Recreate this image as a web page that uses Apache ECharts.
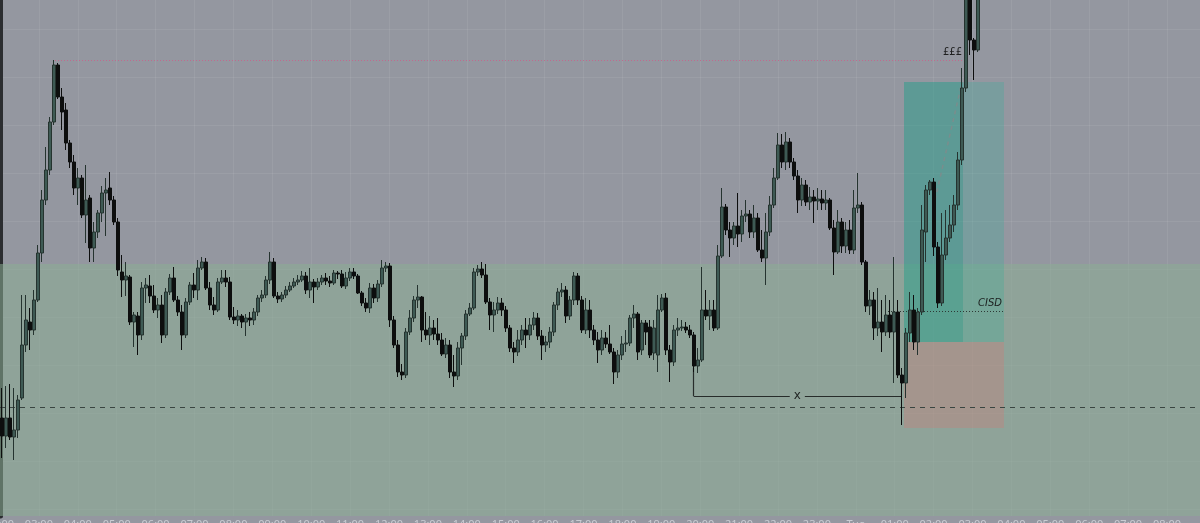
<!DOCTYPE html>
<html><head><meta charset="utf-8">
<script src="https://cdn.jsdelivr.net/npm/echarts@6/dist/echarts.min.js"></script>
<style>html,body{margin:0;padding:0;background:#9497a0;overflow:hidden}#c{width:1200px;height:523px}</style>
</head><body><div id="c"></div>
<script>
// OHLC price data (one candle per bar, bar index = array index)
const opens = [182,164,182,163,170,202,255,278,270,300,347,400,430,478,535,503,490,457,438,412,
422,385,402,352,368,387,407,412,400,378,328,320,323,278,284,265,312,314,304,290,
295,265,308,322,300,288,265,298,315,310,332,338,312,295,290,318,322,318,283,280,
284,278,282,280,288,302,305,320,338,304,301,305,310,314,318,320,324,310,318,313,
318,322,319,317,327,326,314,322,328,324,307,297,292,312,302,316,332,334,280,255,
228,225,268,282,300,303,270,265,272,266,260,246,255,228,224,252,264,286,292,328,
331,325,298,285,290,297,290,272,252,248,260,270,265,275,282,264,255,258,268,295,
308,310,284,300,324,300,270,290,270,260,250,262,256,248,228,245,256,257,282,286,
250,277,273,247,245,290,302,250,238,270,272,273,270,265,234,240,290,284,290,272,
344,393,370,362,374,366,384,386,368,382,350,342,368,395,422,455,438,458,438,424,
400,415,398,403,399,401,397,400,372,348,378,354,370,350,392,395,338,294,300,272,
278,268,285,268,288,225,217,267,290,258,288,368,410,418,353,297,345,362,375,395,
440,512,605,560,550];
const closes = [164,182,163,170,200,255,280,270,300,347,400,430,478,535,503,488,457,438,412,422,
385,400,352,368,387,407,410,400,378,330,320,324,278,285,265,312,315,304,290,295,
265,308,322,300,288,265,298,315,310,332,338,312,295,290,318,322,318,283,280,284,
278,282,280,288,302,305,320,338,304,301,305,310,314,318,320,324,310,318,313,318,
322,319,317,327,326,314,322,328,324,307,297,292,312,302,316,332,334,280,255,228,
225,268,282,300,303,270,265,272,266,260,246,255,228,224,252,264,286,292,328,331,
325,298,285,290,297,290,272,252,248,260,270,265,275,282,264,255,258,268,295,308,
310,284,300,324,300,270,290,270,260,250,262,256,248,228,245,256,257,282,286,248,
277,268,245,272,290,302,250,238,270,272,273,270,265,234,240,290,284,290,272,344,
393,370,362,374,366,384,386,368,382,350,342,368,395,422,455,438,458,438,424,400,
415,398,403,399,401,397,400,372,348,378,354,370,350,392,395,338,294,300,272,278,
268,285,268,288,225,217,267,290,258,288,370,410,418,353,297,345,362,375,395,440,
512,605,560,550,610];
const highs = [212,214,216,212,205,305,305,292,310,355,410,453,483,540,537,512,497,460,445,432,
425,435,405,378,390,414,422,428,404,382,345,338,325,288,288,318,322,325,315,302,
305,312,326,333,304,295,302,318,327,340,343,342,318,303,322,330,330,323,293,290,
286,286,288,292,305,310,324,348,342,308,308,314,318,322,325,329,328,332,321,322,
325,327,324,330,329,330,328,332,332,326,309,302,317,316,320,340,338,337,284,260,
236,272,290,304,315,304,288,284,280,282,267,262,260,245,258,267,290,297,332,335,
338,336,302,298,303,302,294,275,258,270,275,282,282,288,287,270,264,273,298,312,
317,314,304,328,327,304,302,300,275,268,270,268,275,252,250,264,270,285,295,288,
280,280,280,280,305,306,307,255,275,282,280,278,275,268,252,333,310,300,300,355,
412,396,378,378,407,390,400,390,395,387,370,387,404,432,467,466,468,462,442,430,
422,420,413,410,412,410,410,402,380,390,382,378,380,410,427,398,340,310,308,312,
300,305,300,343,300,232,272,308,305,292,395,415,420,422,358,387,390,395,405,448,
532,625,615,562,620];
const lows = [142,152,160,140,162,200,248,250,265,298,338,395,425,475,501,470,450,432,405,395,
382,357,338,338,362,378,364,395,375,324,303,304,275,253,245,260,297,297,287,282,
257,262,305,298,284,250,262,295,302,300,330,310,290,285,288,316,313,280,276,274,
272,264,274,275,284,298,302,316,302,297,298,302,308,312,315,318,306,302,297,310,
315,315,313,315,321,312,311,319,321,306,294,288,287,297,298,313,328,273,252,223,
220,222,265,278,292,258,260,255,260,255,244,242,222,213,220,235,260,284,290,324,
322,296,270,268,286,284,268,248,237,244,255,252,260,270,260,240,248,252,264,290,
303,277,280,295,295,267,266,262,255,237,245,252,246,216,222,240,248,254,272,240,
245,255,242,240,228,288,245,218,234,264,269,267,262,228,227,238,280,270,269,270,
342,365,343,355,353,358,378,362,362,348,338,315,364,392,420,432,430,432,420,387,
394,394,390,377,390,390,390,370,325,346,347,347,346,346,387,335,288,285,260,264,
248,264,262,217,222,175,202,258,250,245,285,338,405,344,292,294,340,358,368,390,
435,508,545,520,548];
// tick labels of the time axis (one per vertical grid line)
const timeLabels = ['02:00','03:00','04:00','05:00','06:00','07:00','08:00','09:00','10:00','11:00',
'12:00','13:00','14:00','15:00','16:00','17:00','18:00','19:00','20:00','21:00',
'22:00','23:00','Tue','01:00','02:00','03:00','04:00','05:00','06:00','07:00','08:00'];
// annotation levels (price units) and anchors (bar units)
const barCount = 300;
const gridStep = 9.725;
const zoneTop = 336, zoneBottom = 84;
const dashedLevel = 192.5;
const liquidity = {level: 540, from: 13.75, to: 241.25, text: '£££'};
const cisd = {level: 289, from: 222, to: 250.75, text: 'CISD'};
const position = {from: 226, split: 240.75, to: 251, target: 518, entry: 258, stop: 172};
const bracket = {x0: 173.4, x1: 225.25, top: 232, level: 204, text: 'x'};
const projection = [[233.75, 400], [240.5, 518]];

const categories = [];
for (let i = 0; i < barCount; i++) categories.push(String(i));
const candles = opens.map((o, i) => [o, closes[i], lows[i], highs[i]]);

const chart = echarts.init(document.getElementById('c'), null, {renderer: 'canvas'});
const gridColor = 'rgba(255,255,255,0.07)';
chart.setOption({
  animation: false,
  backgroundColor: '#9497a0',
  grid: [
    {left: 0, right: 0, top: 0, bottom: 7, containLabel: false, outerBoundsMode: 'none'},
    {left: 0, right: 0, top: 29, bottom: 14, containLabel: false, outerBoundsMode: 'none'}
  ],
  xAxis: [
    {type: 'category', gridIndex: 0, position: 'bottom', data: categories, boundaryGap: true, show: false},
    {type: 'value', gridIndex: 0, position: 'bottom', min: 0, max: barCount, interval: gridStep,
     axisLine: {show: false}, axisTick: {show: false},
     axisLabel: {show: true, color: '#c9ccd2', fontSize: 11, margin: 3, fontFamily: 'Noto Sans',
       formatter: v => timeLabels[Math.round(v / gridStep)] || ''},
     splitLine: {show: true, lineStyle: {color: gridColor, width: 1}}},
    {type: 'value', gridIndex: 1, min: 0, max: 100, show: false}
  ],
  yAxis: [
    {type: 'value', gridIndex: 0, position: 'left', min: zoneBottom, max: 600, scale: true,
     axisLine: {show: true, lineStyle: {color: '#2b2d30', width: 5}},
     axisTick: {show: false}, axisLabel: {show: false}, splitLine: {show: false}},
    {type: 'value', gridIndex: 1, min: 0, max: 480, interval: 48,
     axisLine: {show: false}, axisTick: {show: false}, axisLabel: {show: false},
     splitLine: {show: true, lineStyle: {color: gridColor, width: 1}}}
  ],
  series: [
    {type: 'line', xAxisIndex: 2, yAxisIndex: 1, data: [], silent: true},
    {
      type: 'line', xAxisIndex: 1, yAxisIndex: 0, data: [], silent: true, z: 1,
      markArea: {silent: true, data: [
        [{yAxis: zoneBottom, itemStyle: {color: 'rgba(139,173,147,0.55)'}}, {yAxis: zoneTop}],
        [{xAxis: position.from, yAxis: position.entry, itemStyle: {color: 'rgba(40,175,150,0.25)'}}, {xAxis: position.to, yAxis: position.target}],
        [{xAxis: position.from, yAxis: position.entry, itemStyle: {color: 'rgba(30,150,130,0.3)'}}, {xAxis: position.split, yAxis: position.target}],
        [{xAxis: position.from, yAxis: position.stop, itemStyle: {color: 'rgba(240,100,100,0.22)'}}, {xAxis: position.to, yAxis: position.entry}]
      ]}
    },
    {
      type: 'candlestick', xAxisIndex: 0, yAxisIndex: 0, data: candles, z: 5, clip: true,
      barWidth: '70%', silent: true,
      itemStyle: {color: '#3e5a54', color0: '#0d0e0e', borderColor: '#25332f', borderColor0: '#0d0e0e', borderWidth: 1}
    },
    {
      type: 'line', xAxisIndex: 1, yAxisIndex: 0, data: [], silent: true, z: 6,
      markLine: {silent: true, symbol: ['none', 'none'], animation: false, data: [
        [{coord: [0, dashedLevel], lineStyle: {color: '#3a4541', width: 1, type: [5, 5]}, label: {show: false}}, {coord: [barCount, dashedLevel]}],
        [{coord: [liquidity.from, liquidity.level], lineStyle: {color: '#c06a8e', width: 1, type: [1, 2]},
          label: {show: true, position: 'insideEndTop', formatter: liquidity.text, color: '#1f2020', fontSize: 10, fontFamily: 'DejaVu Sans', distance: [3, 3]}},
         {coord: [liquidity.to, liquidity.level]}],
        [{coord: [cisd.from, cisd.level], lineStyle: {color: '#2d3935', width: 1, type: [1, 2]},
          label: {show: true, position: 'insideEndTop', formatter: cisd.text, color: '#1b1f1e', fontSize: 10, fontStyle: 'italic', fontFamily: 'DejaVu Sans', distance: [1, 3]}},
         {coord: [cisd.to, cisd.level]}],
        [{coord: projection[0], lineStyle: {color: 'rgba(125,140,140,0.9)', width: 1.5, type: [4, 4]}, label: {show: false}}, {coord: projection[1]}],
        [{coord: [bracket.x0, bracket.top], lineStyle: {color: '#272c2a', width: 1.2, type: 'solid'}, label: {show: false}}, {coord: [bracket.x0, bracket.level]}],
        [{coord: [bracket.x0, bracket.level], lineStyle: {color: '#272c2a', width: 1.2, type: 'solid'},
          label: {show: true, position: 'middle', distance: 0, verticalAlign: 'middle', formatter: bracket.text, color: '#1f2422', fontSize: 12, fontFamily: 'DejaVu Sans',
            backgroundColor: '#8fa399', padding: [0, 4], lineHeight: 12}},
         {coord: [bracket.x1, bracket.level]}]
      ]}
    }
  ]
});
</script></body></html>
